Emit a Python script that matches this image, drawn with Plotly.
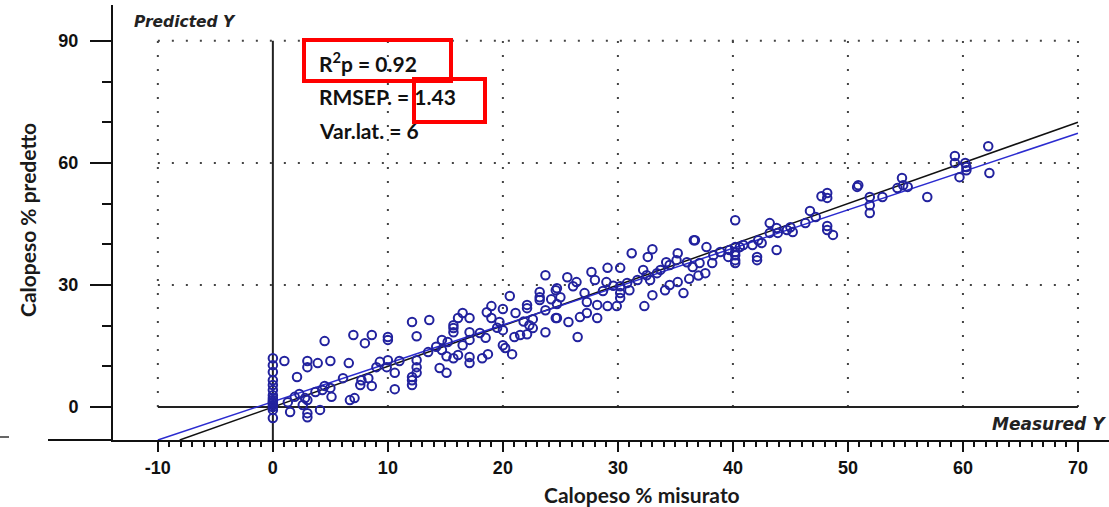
import plotly.graph_objects as go

# ---- data ----
measured = [
    0, 0, 0, 0, 0, 0, 0, 0, 0, 0, 0, 0, 0, 0, 0,
    1.0, 2.1, 3.0, 3.0, 3.9, 5.0, 4.5, 6.6, 7.0, 8.0,
    8.6, 10.0, 10.0, 12.1, 9.3, 10.0, 9.0, 9.9, 10.6, 10.6,
    11.0, 12.1, 12.1, 12.5, 12.5, 12.5, 7.7, 8.3, 7.6, 8.6,
    6.1, 4.5, 5.0, 5.1, 4.3, 3.7, 1.9, 2.8, 3.0, 1.3,
    1.5, 3.0, 3.0, 4.1, 6.7, 7.1, 2.3, 2.6, 12.5, 12.1,
    23.7, 23.2, 23.2, 23.2, 24.6, 24.7, 24.6, 20.6, 22.1, 22.1,
    23.7, 19.0, 18.6, 20.0, 21.1, 22.6, 22.3, 22.6, 23.7, 21.0,
    21.5, 22.1, 19.0, 19.7, 20.0, 20.0, 20.2, 20.8, 16.5, 16.1,
    17.1, 15.7, 15.7, 15.7, 17.1, 17.1, 14.7, 15.2, 16.5, 16.1,
    18.0, 14.7, 15.1, 15.7, 17.1, 17.1, 18.2, 18.7, 13.6, 14.5,
    15.1, 13.5, 14.2, 18.5, 19.5, 21.8,
    36.6, 35.2, 33.0, 32.6, 31.2, 34.2, 36.0, 36.5, 32.2, 32.5,
    32.8, 33.4, 33.7, 34.5, 35.1, 35.2, 34.5, 34.1, 35.7, 33.0,
    32.3, 30.2, 29.1, 27.7, 25.6, 26.4, 26.1, 24.7, 28.0, 29.0,
    30.2, 30.8, 31.7, 31.0, 30.2, 30.2, 29.1, 29.9, 27.1, 27.3,
    28.2, 26.7, 27.3, 28.2, 25.7, 24.7, 26.5, 36.2, 37.0, 28.7,
    29.6, 25.0, 24.2,
    50.8, 47.7, 48.2, 48.2, 46.7, 47.2, 48.2, 48.2, 48.7, 45.0,
    45.2, 44.7, 46.3, 43.2, 43.2, 43.8, 43.9, 43.8, 42.1, 42.1,
    40.2, 40.2, 40.2, 40.2, 40.2, 40.2, 39.7, 39.6, 40.6, 40.9,
    37.7, 38.2, 37.6, 36.7, 38.9, 38.3, 37.1, 42.2, 41.7, 42.5,
    62.2, 59.3, 59.3, 60.2, 60.3, 60.3, 59.7, 62.3, 54.7, 54.8,
    55.2, 56.9, 51.9, 53.0, 54.3, 51.9, 51.9, 50.9,
]
predicted = [
    12.0, 10.3, 8.6, 6.6, 5.4, 4.2, 2.9, 1.7, 1.0, 0.5, -0.7, -2.7, 0.0, 2.2, 1.3,
    11.3, 7.4, 11.3, 9.8, 10.8, 11.3, 16.2, 10.8, 17.7, 15.7,
    17.7, 17.2, 16.5, 20.9, 11.1, 11.5, 9.8, 9.8, 8.4, 4.4,
    11.3, 6.6, 5.4, 11.5, 9.8, 8.4, 6.6, 7.1, 5.4, 5.2,
    7.1, 5.2, 4.7, 2.5, 4.2, 3.7, 2.5, 2.2, 1.7, 1.2,
    -1.2, -1.5, -2.5, -0.7, 1.7, 2.2, 3.2, 0.5, 17.4, 7.4,
    32.4, 28.3, 27.0, 26.3, 28.7, 25.3, 21.9, 27.3, 25.1, 24.3,
    23.8, 24.8, 23.3, 24.1, 23.1, 21.6, 20.1, 19.4, 18.4, 17.2,
    17.7, 17.9, 21.9, 20.9, 18.9, 15.2, 14.5, 13.0, 23.1, 21.9,
    21.9, 20.1, 19.4, 18.4, 18.4, 16.5, 16.5, 16.0, 15.2, 12.8,
    18.2, 14.0, 12.5, 12.0, 12.3, 10.8, 12.0, 13.0, 21.4, 9.6,
    8.4, 13.5, 14.8, 17.0, 19.5, 21.0,
    41.0, 37.8, 38.8, 36.9, 37.8, 35.6, 35.6, 34.4, 33.7, 32.4,
    31.2, 32.9, 33.7, 34.9, 36.1, 30.7, 30.0, 28.7, 28.0, 27.5,
    24.8, 34.2, 34.2, 33.2, 31.9, 30.7, 29.7, 29.2, 31.2, 30.7,
    29.7, 30.5, 31.2, 28.7, 28.0, 26.8, 24.8, 24.8, 28.0, 25.8,
    25.1, 22.1, 23.1, 21.9, 20.9, 21.9, 17.2, 31.5, 32.3, 28.5,
    29.8, 27.0, 26.5,
    54.1, 51.8, 52.6, 51.4, 48.2, 46.7, 44.5, 43.5, 42.3, 44.2,
    43.0, 43.5, 45.2, 45.2, 42.8, 44.0, 42.8, 38.6, 36.9, 36.1,
    45.9, 39.3, 38.1, 37.3, 36.1, 35.4, 38.6, 36.9, 39.3, 39.8,
    39.3, 35.4, 32.9, 41.0, 38.1, 37.3, 35.4, 41.0, 39.8, 40.3,
    64.1, 61.7, 60.0, 60.0, 59.0, 58.2, 56.5, 57.5, 56.3, 54.5,
    54.1, 51.6, 51.6, 51.6, 53.8, 49.6, 47.7, 54.5,
]

# fitted (blue) and target (black) lines: slope, intercept, x extent
fit_slope, fit_intercept = 0.9425, 1.32
fit_x = [-10, 70]
target_slope, target_intercept = 1.0, 0.0
target_x = [-8.1, 70]

x_ticks = [-10, 0, 10, 20, 30, 40, 50, 60, 70]
y_ticks = [0, 30, 60, 90]
grid_x = [-10, 10, 20, 30, 40, 50, 60, 70]
grid_y = [30, 60, 90]

stats_lines = ["R<sup>2</sup>p = 0.92", "RMSEP. = 1.43", "Var.lat. = 6"]

X_RANGE = [-13.9, 72.7]
Y_RANGE = [-8.1, 98.8]

# ---- layout helpers (pixel -> paper) ----
W, H = 1109, 507
L, R, T, B = 113, 0, 5, 67
PW, PH = W - L - R, H - T - B


def pxx(px):
    return (px - L) / PW


def pxy(py):
    return (H - B - py) / PH


fig = go.Figure()

# dotted grid
for gx in grid_x:
    fig.add_shape(type="line", x0=gx, x1=gx, y0=0, y1=90, xref="x", yref="y",
                  line=dict(color="#444444", width=2, dash="2px,12px"), layer="below")
for gy in grid_y:
    fig.add_shape(type="line", x0=-10, x1=70, y0=gy, y1=gy, xref="x", yref="y",
                  line=dict(color="#444444", width=2, dash="2px,12px"), layer="below")

# solid zero lines
fig.add_shape(type="line", x0=-10, x1=70, y0=0, y1=0, xref="x", yref="y",
              line=dict(color="#222222", width=2), layer="below")
fig.add_shape(type="line", x0=0, x1=0, y0=Y_RANGE[0], y1=90, xref="x", yref="y",
              line=dict(color="#222222", width=2), layer="below")

# extension of x axis line to the left
fig.add_shape(type="line", x0=pxx(48), x1=pxx(113), y0=pxy(440), y1=pxy(440),
              xref="paper", yref="paper", line=dict(color="#111111", width=2))
fig.add_shape(type="line", x0=pxx(0), x1=pxx(9), y0=pxy(437), y1=pxy(437),
              xref="paper", yref="paper", line=dict(color="#333333", width=1.5))

# regression lines
fig.add_trace(go.Scatter(x=target_x, y=[target_slope * v + target_intercept for v in target_x],
                         mode="lines", line=dict(color="#111111", width=1.5),
                         showlegend=False, hoverinfo="skip"))
fig.add_trace(go.Scatter(x=fit_x, y=[fit_slope * v + fit_intercept for v in fit_x],
                         mode="lines", line=dict(color="#2b2bd0", width=1.5),
                         showlegend=False, hoverinfo="skip"))

# samples
fig.add_trace(go.Scatter(x=measured, y=predicted, mode="markers",
                         marker=dict(symbol="circle-open", size=8.5, color="#22229e",
                                     line=dict(width=2, color="#22229e")),
                         showlegend=False))

tick_font = dict(family="Liberation Sans", size=18, color="#111111", weight="bold")

fig.update_xaxes(range=X_RANGE, tickmode="array", tickvals=x_ticks,
                 ticktext=[str(v) for v in x_ticks], ticks="outside", ticklen=10,
                 tickwidth=2, tickcolor="#111111", showline=True, linewidth=2,
                 linecolor="#111111", showgrid=False, zeroline=False,
                 tickfont=tick_font,
                 minor=dict(tickmode="array", tickvals=list(range(-10, 71)),
                            ticks="outside", ticklen=5, tickwidth=1.5,
                            tickcolor="#111111", showgrid=False))
fig.update_yaxes(range=Y_RANGE, tickmode="array", tickvals=y_ticks,
                 ticktext=[str(v) for v in y_ticks], ticks="outside", ticklen=21,
                 tickwidth=2, tickcolor="#111111", showline=True, linewidth=2,
                 linecolor="#111111", showgrid=False, zeroline=False,
                 tickfont=tick_font, ticklabelstandoff=8,
                 minor=dict(tickmode="array", tickvals=[10, 20, 40, 50, 70, 80],
                            ticks="outside", ticklen=9, tickwidth=2,
                            tickcolor="#111111", showgrid=False))

annos = []
title_font = dict(family="Lato", size=21, color="#1a1a1a", weight="bold")
annos.append(dict(text="Calopeso % misurato", x=pxx(642), y=pxy(494), xref="paper", yref="paper",
                  showarrow=False, xanchor="center", yanchor="middle", font=title_font))
annos.append(dict(text="Calopeso % predetto", x=pxx(28), y=pxy(220), xref="paper", yref="paper",
                  showarrow=False, xanchor="center", yanchor="middle", textangle=-90, font=title_font))
ital_p = dict(family="DejaVu Sans", size=15.5, color="#222222", weight="bold", style="italic")
ital_m = dict(family="DejaVu Sans", size=17, color="#222222", weight="bold", style="italic")
annos.append(dict(text="Predicted Y", x=pxx(132), y=pxy(22), xref="paper", yref="paper",
                  showarrow=False, xanchor="left", yanchor="middle", font=ital_p))
annos.append(dict(text="Measured Y", x=pxx(1108), y=pxy(424), xref="paper", yref="paper",
                  showarrow=False, xanchor="right", yanchor="middle", font=ital_m))
stat_font = dict(family="Lato", size=21, color="#111111", weight="bold")
for i, s in enumerate(stats_lines):
    annos.append(dict(text=s, x=pxx(317), y=pxy(62 + 34 * i), xref="paper", yref="paper",
                      showarrow=False, xanchor="left", yanchor="middle", font=stat_font))

# red highlight boxes
fig.add_shape(type="rect", x0=pxx(304), x1=pxx(451), y0=pxy(40), y1=pxy(81),
              xref="paper", yref="paper", line=dict(color="#ff0000", width=4))
fig.add_shape(type="rect", x0=pxx(414), x1=pxx(485), y0=pxy(79), y1=pxy(122),
              xref="paper", yref="paper", line=dict(color="#ff0000", width=4))

fig.update_layout(width=W, height=H, margin=dict(l=L, r=R, t=T, b=B),
                  plot_bgcolor="white", paper_bgcolor="white",
                  annotations=annos, showlegend=False)

fig.write_html("out.html")
